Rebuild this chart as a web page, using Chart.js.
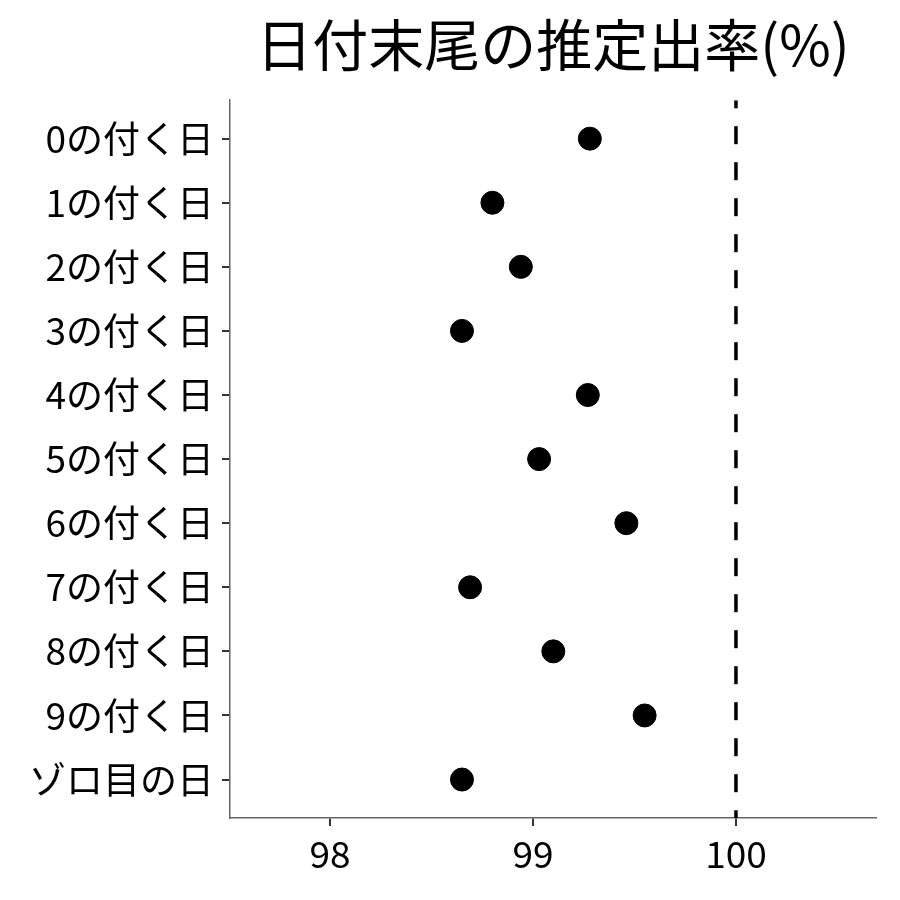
<!DOCTYPE html>
<html>
<head>
<meta charset="utf-8">
<script src="https://cdn.jsdelivr.net/npm/chart.js@4"></script>
<style>
html,body{margin:0;padding:0;background:#fff;}
#wrap{width:900px;height:900px;}
</style>
</head>
<body>
<div id="wrap"><canvas id="c" width="900" height="900"></canvas></div>
<script>
// ===== DATA =====
const categories = ["0の付く日","1の付く日","2の付く日","3の付く日","4の付く日","5の付く日","6の付く日","7の付く日","8の付く日","9の付く日","ゾロ目の日"]
const rates = [99.28, 98.80, 98.94, 98.65, 99.27, 99.03, 99.46, 98.69, 99.10, 99.55, 98.65]
const xTicks = [98, 99, 100]
const refValue = 100

const FONT = "'Noto Sans CJK JP','Noto Sans',sans-serif"

let points = rates.map((v,i)=>({x:v, y:i}))

new Chart(document.getElementById("c"),{
type:"scatter",
data:{
datasets:[
{
data:points,
backgroundColor:"#000",
borderColor:"#000",
pointRadius:11.5,
pointHoverRadius:11.5
},
{
type:"line",
data:[{x:refValue,y:-0.6},{x:refValue,y:categories.length-0.4}],
borderColor:"#000",
borderWidth:3.5,
borderDash:[18,18],
borderDashOffset:10,
pointRadius:0
}
]
},
options:{
responsive:false,
animation:false,
layout:{padding:{left:0,right:24,top:0,bottom:0}},
plugins:{
legend:{display:false},
tooltip:{enabled:false},
title:{
display:true,
text:"日付末尾の推定出率(%)",
color:"#000",
fullSize:false,
font:{family:FONT,size:56,weight:"normal",lineHeight:1.2},
padding:{top:11,bottom:22}
}
},
scales:{
x:{
type:"linear",
min:97.507,
max:100.69,
afterBuildTicks:(s)=>{ s.ticks = xTicks.map(v=>({value:v})) },
afterFit:(s)=>{ s.height = 82 },
border:{color:"#666",width:1.5},
grid:{display:true,drawOnChartArea:false,tickLength:8,tickColor:"#333",lineWidth:2},
ticks:{color:"#000",padding:6,font:{family:FONT,size:37},maxRotation:0}
},
y:{
type:"linear",
reverse:true,
min:-0.6,
max:categories.length-0.4,
afterBuildTicks:(s)=>{ s.ticks = categories.map((c,i)=>({value:i})) },
afterFit:(s)=>{ s.width = 230 },
border:{color:"#666",width:1.5},
grid:{display:true,drawOnChartArea:false,tickLength:8,tickColor:"#333",lineWidth:2},
ticks:{color:"#000",padding:8,font:{family:FONT,size:37},callback:(v)=>categories[v]}
}
}
}
})
</script>
</body>
</html>
